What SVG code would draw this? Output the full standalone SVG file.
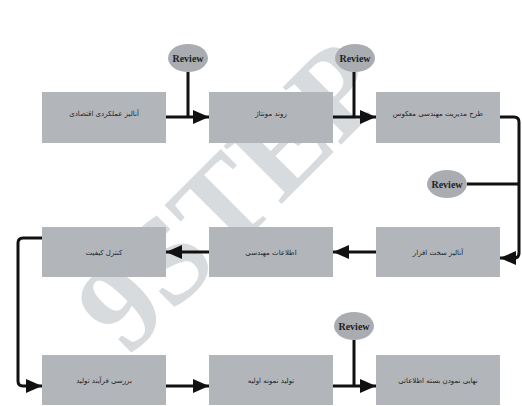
<svg xmlns="http://www.w3.org/2000/svg" width="522" height="406" viewBox="0 0 522 406">
<defs>
<marker id="ah" markerUnits="userSpaceOnUse" markerWidth="16" markerHeight="14" refX="16" refY="7" orient="auto">
<path d="M0,0 L16,7 L0,14 z" fill="#111"/>
</marker>
<style>
.box{fill:#b2b6bb}
.rev{fill:#a9adb2}
.lbl{font-family:"DejaVu Sans",sans-serif;font-size:7px;fill:#222;text-anchor:middle;direction:rtl}
.rt{font-family:"Liberation Serif",serif;font-size:10px;font-weight:bold;fill:#222;text-anchor:middle}
.ln{fill:none;stroke:#111;stroke-width:3}
.wm{font-family:"Liberation Serif",serif;font-size:125px;font-weight:bold;fill:#d8dbde}
</style>
</defs>
<rect width="522" height="406" fill="#fff"/>
<text class="wm" transform="translate(240,205) rotate(-45)" text-anchor="middle" dominant-baseline="middle">9STEP</text>
<g id="connectors">
<path class="ln" d="M166,117 H209" marker-end="url(#ah)"/>
<path class="ln" d="M188,72 V117"/>
<path class="ln" d="M333,117 H376" marker-end="url(#ah)"/>
<path class="ln" d="M354,72 V117"/>
<path class="ln" d="M500,117 H514 Q519,117 519,122 V253 Q519,258 514,258 H500" marker-end="url(#ah)"/>
<path class="ln" d="M467,184 H519"/>
<path class="ln" d="M376,252 H333" marker-end="url(#ah)"/>
<path class="ln" d="M209,252 H166" marker-end="url(#ah)"/>
<path class="ln" d="M42,238 H23 Q18,238 18,243 V381 Q18,386 23,386 H42" marker-end="url(#ah)"/>
<path class="ln" d="M166,386 H209" marker-end="url(#ah)"/>
<path class="ln" d="M333,386 H376" marker-end="url(#ah)"/>
<path class="ln" d="M354,340 V386"/>
</g>
<g id="n1"><rect class="box" x="42" y="92" width="124" height="51"/><text class="lbl" x="104" y="116">آنالیز عملکردی اقتصادی</text></g>
<g id="n2"><rect class="box" x="209" y="92" width="124" height="51"/><text class="lbl" x="271" y="116">روند مونتاژ</text></g>
<g id="n3"><rect class="box" x="376" y="92" width="124" height="51"/><text class="lbl" x="438" y="116">طرح مدیریت مهندسی معکوس</text></g>
<g id="n4"><rect class="box" x="376" y="227" width="124" height="50"/><text class="lbl" x="438" y="255">آنالیز سخت افزار</text></g>
<g id="n5"><rect class="box" x="209" y="227" width="124" height="50"/><text class="lbl" x="271" y="255">اطلاعات مهندسی</text></g>
<g id="n6"><rect class="box" x="42" y="227" width="124" height="50"/><text class="lbl" x="104" y="255">کنترل کیفیت</text></g>
<g id="n7"><rect class="box" x="42" y="355" width="124" height="50"/><text class="lbl" x="104" y="383">بررسی فرآیند تولید</text></g>
<g id="n8"><rect class="box" x="209" y="355" width="124" height="50"/><text class="lbl" x="271" y="383">تولید نمونه اولیه</text></g>
<g id="n9"><rect class="box" x="376" y="355" width="124" height="50"/><text class="lbl" x="438" y="383">نهایی نمودن بسته اطلاعاتی</text></g>
<g id="r1"><ellipse class="rev" cx="188" cy="58" rx="20" ry="14"/><text class="rt" x="188" y="61.5">Review</text></g>
<g id="r2"><ellipse class="rev" cx="355" cy="58" rx="20" ry="14"/><text class="rt" x="355" y="61.5">Review</text></g>
<g id="r3"><ellipse class="rev" cx="447" cy="184" rx="20" ry="14"/><text class="rt" x="447" y="187.5">Review</text></g>
<g id="r4"><ellipse class="rev" cx="354" cy="326" rx="20" ry="14"/><text class="rt" x="354" y="329.5">Review</text></g>
</svg>
